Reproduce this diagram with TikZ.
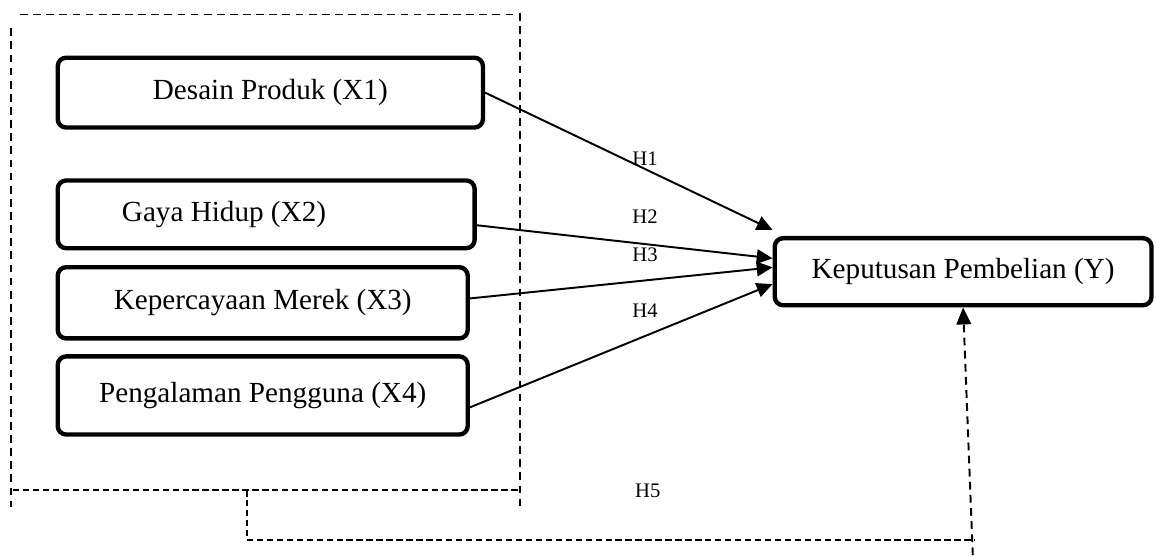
\documentclass[tikz,border=0pt]{standalone}
\usepackage{fontspec}
\setmainfont{Liberation Serif}
\usetikzlibrary{arrows.meta}
\begin{document}
\begin{tikzpicture}[
		varbox/.style={draw, black, line width=1.8pt, rounded corners=3.5pt, inner sep=0pt, align=center, font=\fontsize{12}{14}\selectfont},
		hlabel/.style={inner sep=0pt, font=\fontsize{8.5}{10}\selectfont},
		link/.style={black, line width=0.8pt, -{Triangle[length=6.5pt, width=6pt]}},
		groupline/.style={black, line width=0.8pt, dash pattern=on 3.2pt off 2.2pt},
		feedline/.style={black, line width=0.8pt, dash pattern=on 2.6pt off 1.5pt}
	]
		\useasboundingbox (0, 0) rectangle (16.72, 8.03);
		\node [varbox, minimum width=6.15cm, minimum height=1.01cm] at (3.91, 6.69) (x1) {Desain Produk (X1)};
		\node [varbox, minimum width=6.03cm, minimum height=0.98cm] at (3.85, 4.93) (x2) {Gaya Hidup (X2)\hspace*{1.22cm}};
		\node [varbox, minimum width=5.93cm, minimum height=1.03cm] at (3.80, 3.65) (x3) {Kepercayaan Merek (X3)};
		\node [varbox, minimum width=5.93cm, minimum height=1.13cm] at (3.80, 2.31) (x4) {Pengalaman Pengguna (X4)};
		\node [varbox, minimum width=5.45cm, minimum height=0.97cm] at (13.93, 4.10) (y) {Keputusan Pembelian (Y)};
		\node [hlabel] at (9.33, 5.74) (h1) {H1};
		\node [hlabel] at (9.33, 4.89) (h2) {H2};
		\node [hlabel] at (9.33, 4.34) (h3) {H3};
		\node [hlabel] at (9.33, 3.54) (h4) {H4};
		\node [hlabel] at (9.37, 0.93) (h5) {H5};
		\draw [link] (x1.east) -- ([yshift=2.5pt]y.north west);
		\draw [link] ([yshift=-4.5pt]x2.east) -- ([yshift=5.5pt]y.west);
		\draw [link] ([yshift=1.8pt]x3.east) -- ([yshift=1.8pt]y.west);
		\draw [link] ([yshift=-4.9pt]x4.east) -- ([yshift=-5.1pt]y.west);
		\draw [groupline] (0.29, 7.82) -- (7.52, 7.82);
		\draw [groupline] (0.16, 7.62) -- (0.16, 0.69);
		\draw [groupline] (7.52, 7.84) -- (7.52, 0.68);
		\draw [feedline] (0.19, 0.94) -- (7.52, 0.94);
		\coordinate (fbtop) at (3.57, 0.94);
		\coordinate (fbbase) at (14.07, 0);
		\draw [feedline] (fbtop) -- (3.57, 0.22) -- (14.10, 0.22);
		\draw [groupline, -{Triangle[length=7pt, width=6pt]}] (fbbase) -- (y.south);
	\end{tikzpicture}
\end{document}
